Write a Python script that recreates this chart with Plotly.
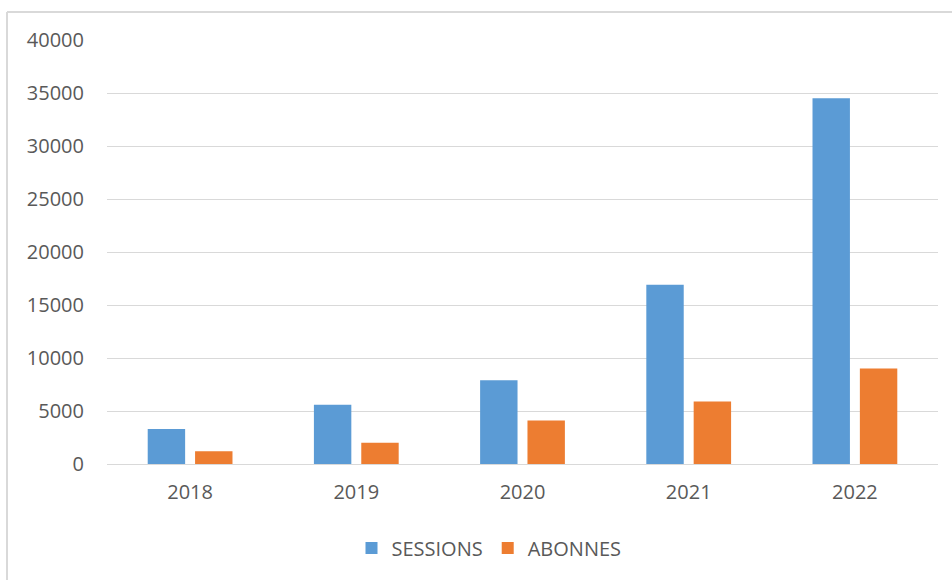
import plotly.graph_objects as go

years = ["2018", "2019", "2020", "2021", "2022"]
sessions = [3300, 5600, 7900, 16900, 34500]
abonnes = [1200, 2000, 4100, 5900, 9000]
y_ticks = [0, 5000, 10000, 15000, 20000, 25000, 30000, 35000, 40000]

W, H = 952, 580
L, R, T, B = 107, 14, 40, 116

font = dict(family="Open Sans", size=20, color="#595959")

fig = go.Figure()
fig.add_trace(go.Bar(name="SESSIONS", x=years, y=sessions,
                     marker=dict(color="#5B9BD5", line=dict(width=0))))
fig.add_trace(go.Bar(name="ABONNES", x=years, y=abonnes,
                     marker=dict(color="#ED7D31", line=dict(width=0))))

fig.update_layout(
    width=W, height=H,
    margin=dict(l=L, r=R, t=T, b=B),
    paper_bgcolor="white", plot_bgcolor="white",
    font=font,
    barmode="group", bargap=0.43, bargroupgap=0.21,
    showlegend=True,
    legend=dict(orientation="h", x=(489 - L) / (W - L - R), xanchor="center",
                y=-(548 - (H - B)) / (H - T - B), yanchor="middle",
                font=font, itemwidth=30, tracegroupgap=0,
                bgcolor="rgba(0,0,0,0)"),
    xaxis=dict(showgrid=False, showline=False, zeroline=False,
               ticks="", ticklabelstandoff=14, tickfont=font),
    yaxis=dict(range=[0, 40000], tickvals=y_ticks,
               ticktext=[str(v) for v in y_ticks],
               showgrid=True, gridcolor="#D9D9D9", gridwidth=1,
               zeroline=True, zerolinecolor="#D9D9D9", zerolinewidth=1,
               showline=False, ticks="", ticklabelstandoff=22, tickfont=font),
    shapes=[
        dict(type="line", xref="paper", yref="paper",
             x0=-(L - 7) / (W - L - R), x1=1 + R / (W - L - R),
             y0=1 + (T - 12) / (H - T - B), y1=1 + (T - 12) / (H - T - B),
             line=dict(color="#D9D9D9", width=2)),
        dict(type="line", xref="paper", yref="paper",
             x0=-(L - 7) / (W - L - R), x1=-(L - 7) / (W - L - R),
             y0=1 + (T - 12) / (H - T - B), y1=-B / (H - T - B),
             line=dict(color="#D9D9D9", width=2)),
    ],
)

fig.write_html("out.html")
